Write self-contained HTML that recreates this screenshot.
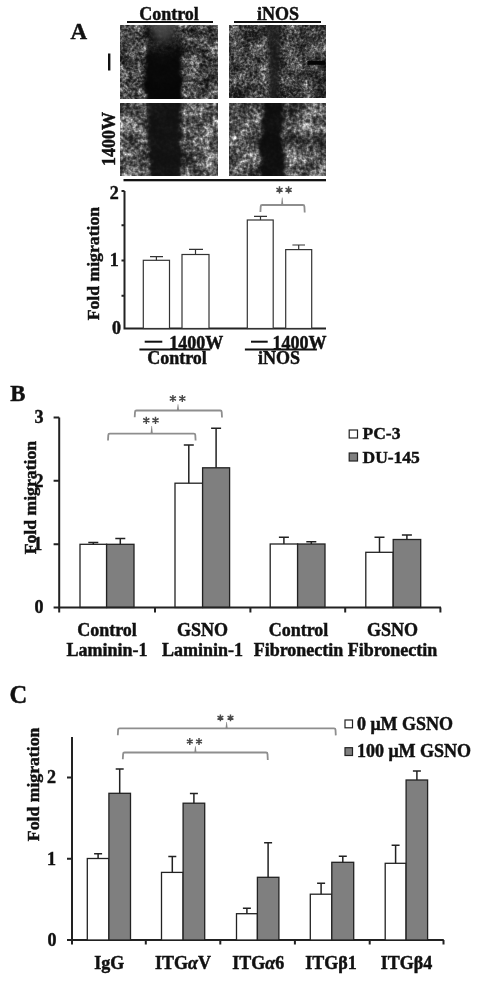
<!DOCTYPE html>
<html><head><meta charset="utf-8"><style>
html,body{margin:0;padding:0;background:#fff;}
body{width:481px;height:983px;overflow:hidden;position:relative;}
svg{position:absolute;left:0;top:0;display:block;filter:blur(0.45px);}
text{font-family:"Liberation Serif",serif;font-weight:bold;fill:#111;stroke:#111;stroke-width:0.45px;}
</style></head><body>
<svg width="481" height="983" viewBox="0 0 481 983">
<!-- ===== Panel A ===== -->
<text x="70.5" y="39" font-size="23">A</text>
<text x="169" y="20" font-size="18" text-anchor="middle">Control</text>
<rect x="127" y="21" width="86" height="2" fill="#111"/>
<text x="278" y="19.5" font-size="18" text-anchor="middle">iNOS</text>
<rect x="234" y="21" width="87" height="2" fill="#111"/>
<rect x="108" y="53.5" width="2.4" height="17" fill="#111"/>
<text transform="translate(114.5,139) rotate(-90)" font-size="18" text-anchor="middle">1400W</text>

<!-- micrographs -->
<defs>
<filter id="n1" x="0" y="0" width="1" height="1" color-interpolation-filters="sRGB">
<feTurbulence type="fractalNoise" baseFrequency="0.34" numOctaves="2" seed="7" result="h0"/>
<feColorMatrix in="h0" type="matrix" values="1 0 0 0 0  1 0 0 0 0  1 0 0 0 0  0 0 0 0 1" result="h"/>
<feTurbulence type="fractalNoise" baseFrequency="0.07" numOctaves="2" seed="3" result="l0"/>
<feColorMatrix in="l0" type="matrix" values="1 0 0 0 0  1 0 0 0 0  1 0 0 0 0  0 0 0 0 1" result="l"/>
<feComposite in="h" in2="l" operator="arithmetic" k1="0" k2="0.8" k3="0.7" k4="-0.25"/>
<feColorMatrix type="matrix" values="1 0 0 0 0  0 1 0 0 0  0 0 1 0 0  0 0 0 0 1"/>
<feGaussianBlur stdDeviation="0.55"/>
<feComponentTransfer><feFuncR type="gamma" amplitude="1.05" exponent="2.2" offset="0.05"/><feFuncG type="gamma" amplitude="1.05" exponent="2.2" offset="0.05"/><feFuncB type="gamma" amplitude="1.05" exponent="2.2" offset="0.05"/></feComponentTransfer>
</filter><filter id="n2" x="0" y="0" width="1" height="1" color-interpolation-filters="sRGB">
<feTurbulence type="fractalNoise" baseFrequency="0.38" numOctaves="2" seed="19" result="h0"/>
<feColorMatrix in="h0" type="matrix" values="1 0 0 0 0  1 0 0 0 0  1 0 0 0 0  0 0 0 0 1" result="h"/>
<feTurbulence type="fractalNoise" baseFrequency="0.07" numOctaves="2" seed="5" result="l0"/>
<feColorMatrix in="l0" type="matrix" values="1 0 0 0 0  1 0 0 0 0  1 0 0 0 0  0 0 0 0 1" result="l"/>
<feComposite in="h" in2="l" operator="arithmetic" k1="0" k2="0.8" k3="0.7" k4="-0.25"/>
<feColorMatrix type="matrix" values="1 0 0 0 0  0 1 0 0 0  0 0 1 0 0  0 0 0 0 1"/>
<feGaussianBlur stdDeviation="0.55"/>
<feComponentTransfer><feFuncR type="gamma" amplitude="0.95" exponent="2.2" offset="0.05"/><feFuncG type="gamma" amplitude="0.95" exponent="2.2" offset="0.05"/><feFuncB type="gamma" amplitude="0.95" exponent="2.2" offset="0.05"/></feComponentTransfer>
</filter><filter id="n3" x="0" y="0" width="1" height="1" color-interpolation-filters="sRGB">
<feTurbulence type="fractalNoise" baseFrequency="0.3" numOctaves="2" seed="23" result="h0"/>
<feColorMatrix in="h0" type="matrix" values="1 0 0 0 0  1 0 0 0 0  1 0 0 0 0  0 0 0 0 1" result="h"/>
<feTurbulence type="fractalNoise" baseFrequency="0.06" numOctaves="2" seed="8" result="l0"/>
<feColorMatrix in="l0" type="matrix" values="1 0 0 0 0  1 0 0 0 0  1 0 0 0 0  0 0 0 0 1" result="l"/>
<feComposite in="h" in2="l" operator="arithmetic" k1="0" k2="0.8" k3="0.7" k4="-0.25"/>
<feColorMatrix type="matrix" values="1 0 0 0 0  0 1 0 0 0  0 0 1 0 0  0 0 0 0 1"/>
<feGaussianBlur stdDeviation="0.55"/>
<feComponentTransfer><feFuncR type="gamma" amplitude="1.12" exponent="2.2" offset="0.1"/><feFuncG type="gamma" amplitude="1.12" exponent="2.2" offset="0.1"/><feFuncB type="gamma" amplitude="1.12" exponent="2.2" offset="0.1"/></feComponentTransfer>
</filter><filter id="n4" x="0" y="0" width="1" height="1" color-interpolation-filters="sRGB">
<feTurbulence type="fractalNoise" baseFrequency="0.3" numOctaves="2" seed="41" result="h0"/>
<feColorMatrix in="h0" type="matrix" values="1 0 0 0 0  1 0 0 0 0  1 0 0 0 0  0 0 0 0 1" result="h"/>
<feTurbulence type="fractalNoise" baseFrequency="0.06" numOctaves="2" seed="11" result="l0"/>
<feColorMatrix in="l0" type="matrix" values="1 0 0 0 0  1 0 0 0 0  1 0 0 0 0  0 0 0 0 1" result="l"/>
<feComposite in="h" in2="l" operator="arithmetic" k1="0" k2="0.8" k3="0.7" k4="-0.25"/>
<feColorMatrix type="matrix" values="1 0 0 0 0  0 1 0 0 0  0 0 1 0 0  0 0 0 0 1"/>
<feGaussianBlur stdDeviation="0.55"/>
<feComponentTransfer><feFuncR type="gamma" amplitude="1.1" exponent="2.2" offset="0.09"/><feFuncG type="gamma" amplitude="1.1" exponent="2.2" offset="0.09"/><feFuncB type="gamma" amplitude="1.1" exponent="2.2" offset="0.09"/></feComponentTransfer>
</filter>
<filter id="gd1" x="-0.4" y="-0.1" width="1.8" height="1.2" color-interpolation-filters="sRGB">
<feTurbulence type="fractalNoise" baseFrequency="0.12" numOctaves="2" seed="3" result="t"/>
<feDisplacementMap in="SourceGraphic" in2="t" scale="9" xChannelSelector="R" yChannelSelector="G"/>
<feGaussianBlur stdDeviation="1.4"/>
</filter>
<filter id="gd2" x="-0.4" y="-0.1" width="1.8" height="1.2" color-interpolation-filters="sRGB">
<feTurbulence type="fractalNoise" baseFrequency="0.12" numOctaves="2" seed="12" result="t"/>
<feDisplacementMap in="SourceGraphic" in2="t" scale="9" xChannelSelector="R" yChannelSelector="G"/>
<feGaussianBlur stdDeviation="1.4"/>
</filter>
<filter id="bl" x="-0.3" y="-0.1" width="1.6" height="1.2"><feGaussianBlur stdDeviation="2.2"/></filter>
<filter id="bl3" x="-0.3" y="-0.3" width="1.6" height="1.6"><feGaussianBlur stdDeviation="3"/></filter>
<filter id="bl2" x="-0.3" y="-0.1" width="1.6" height="1.2"><feGaussianBlur stdDeviation="1.6"/></filter>
<radialGradient id="rg1" cx="0.5" cy="0.4" r="0.5">
<stop offset="0" stop-color="#5a5a5a" stop-opacity="0.95"/>
<stop offset="0.55" stop-color="#484848" stop-opacity="0.75"/>
<stop offset="1" stop-color="#303030" stop-opacity="0"/>
</radialGradient>
<linearGradient id="gv1" x1="0" x2="0" y1="0" y2="1">
<stop offset="0.1" stop-color="#0a0a0a" stop-opacity="0.3"/>
<stop offset="0.3" stop-color="#0a0a0a" stop-opacity="0.7"/>
<stop offset="0.44" stop-color="#080808" stop-opacity="0.97"/>
<stop offset="1" stop-color="#050505" stop-opacity="1"/>
</linearGradient>
<clipPath id="c1"><rect x="120" y="25" width="98" height="74"/></clipPath>
<clipPath id="c2"><rect x="229" y="25" width="97" height="73"/></clipPath>
<clipPath id="c3"><rect x="120" y="103" width="98" height="73"/></clipPath>
<clipPath id="c4"><rect x="229" y="103" width="97" height="73"/></clipPath>
</defs>
<g clip-path="url(#c1)">
<rect x="120" y="25" width="98" height="74" filter="url(#n1)"/>
<path d="M147.5 15 L178.5 15 L181 50 L182.5 110 L144 110 L146 50 Z" fill="url(#gv1)" filter="url(#gd2)"/>
<ellipse cx="163" cy="26" rx="18" ry="30" fill="url(#rg1)"/>
</g>
<g clip-path="url(#c2)">
<rect x="229" y="25" width="97" height="73" filter="url(#n2)"/>
<path d="M265 15 L280 15 L280 45 L279 70 L278 110 L270 110 L269 70 L268 45 Z" fill="#161616" fill-opacity="0.78" filter="url(#bl2)"/>
<rect x="307.5" y="61" width="17.5" height="3.8" fill="#050505"/>
</g>
<g clip-path="url(#c3)">
<rect x="120" y="103" width="98" height="73" filter="url(#n3)"/>
<path d="M147.5 95 L181 95 L182 140 L183 185 L150.5 185 L148 140 Z" fill="#101010" fill-opacity="0.95" filter="url(#gd1)"/>
</g>
<g clip-path="url(#c4)">
<rect x="229" y="103" width="97" height="73" filter="url(#n4)"/>
<path d="M264 95 L284 95 L282 140 L288 185 L259.5 185 L259.5 140 Z" fill="#0c0c0c" fill-opacity="0.95" filter="url(#gd2)"/>
</g>
<rect x="123.5" y="179" width="202.5" height="2.3" fill="#111"/>

<!-- chart A -->
<g stroke="#222" stroke-width="2" fill="none">
<path d="M124.5 191 V328.5 H326"/>
<path d="M121.5 191 H124.5 M121.5 225.3 H124.5 M121.5 260.5 H124.5 M121.5 295.8 H124.5"/>
</g>
<g stroke="#333" stroke-width="1.2" fill="#fff">
<rect x="143.3" y="260.3" width="26.2" height="68.2"/>
<rect x="182" y="254.5" width="27" height="74"/>
<rect x="247.3" y="220" width="25.9" height="108.5"/>
<rect x="285.7" y="249.6" width="26" height="78.9"/>
</g>
<g stroke="#333" stroke-width="1.2" fill="none">
<path d="M156.4 260.3 V256.6 M150 256.6 H163"/>
<path d="M195.5 254.5 V249.4 M189 249.4 H203"/>
<path d="M260.5 220 V216.4 M254 216.4 H267"/>
<path d="M298.7 249.6 V245 M292.4 245 H305"/>
</g>
<text x="118.7" y="198.5" font-size="18" text-anchor="end">2</text>
<text x="118.7" y="266" font-size="18" text-anchor="end">1</text>
<text x="121" y="334" font-size="18" text-anchor="end">0</text>
<text transform="translate(99.2,263.6) rotate(-90)" font-size="17.7" text-anchor="middle">Fold migration</text>
<rect x="144.7" y="340.7" width="17.6" height="2" fill="#111"/>
<text x="196.3" y="348.6" font-size="18" font-weight="normal" text-anchor="middle">1400W</text>
<rect x="139.4" y="348.5" width="71" height="2" fill="#111"/>
<text x="177" y="364" font-size="18" text-anchor="middle">Control</text>
<rect x="251" y="340.7" width="16.7" height="2" fill="#111"/>
<text x="299.5" y="348.6" font-size="18" font-weight="normal" text-anchor="middle">1400W</text>
<rect x="244.9" y="348.5" width="72" height="2" fill="#111"/>
<text x="279" y="364" font-size="18" text-anchor="middle">iNOS</text>

<!-- ===== Panel B ===== -->
<text x="10.2" y="400.6" font-size="22.8">B</text>
<!-- ===== Panel B bars ===== -->
<g stroke="#222" stroke-width="1.3">
<rect x="80.0" y="544.3" width="26.6" height="63.2" fill="#fff"/>
<rect x="106.6" y="544.3" width="27.4" height="63.2" fill="#7f7f7f"/>
<rect x="175.0" y="483.2" width="27.6" height="124.3" fill="#fff"/>
<rect x="202.6" y="467.8" width="27.0" height="139.7" fill="#7f7f7f"/>
<rect x="270.2" y="544.0" width="27.4" height="63.5" fill="#fff"/>
<rect x="297.6" y="544.0" width="27.4" height="63.5" fill="#7f7f7f"/>
<rect x="365.8" y="552.3" width="27.4" height="55.2" fill="#fff"/>
<rect x="393.2" y="539.5" width="27.5" height="68.0" fill="#7f7f7f"/>
</g>
<g stroke="#222" stroke-width="1.5" fill="none">
<path d="M93.3 544.3 V542.5 M88.3 542.5 H98.3"/>
<path d="M120.3 544.3 V538.5 M115.3 538.5 H125.3"/>
<path d="M188.8 483.2 V445.0 M183.8 445.0 H193.8"/>
<path d="M216.1 467.8 V428.3 M211.1 428.3 H221.1"/>
<path d="M283.9 544.0 V537.2 M278.9 537.2 H288.9"/>
<path d="M311.3 544.0 V541.8 M306.3 541.8 H316.3"/>
<path d="M379.5 552.3 V537.2 M374.5 537.2 H384.5"/>
<path d="M406.9 539.5 V534.9 M401.9 534.9 H411.9"/>
</g>

<g stroke="#222" stroke-width="2" fill="none">
<path d="M59.2 417.5 V607.5 H441"/>
<path d="M53.6 417.5 H59.2 M53.6 480.8 H59.2 M53.6 544.2 H59.2 M53.6 607.5 H59.2"/>
<path d="M59.2 607.5 V612.5 M155 607.5 V612.5 M250.4 607.5 V612.5 M345.2 607.5 V612.5 M440.4 607.5 V612.5"/>
</g>
<text x="43.5" y="423" font-size="18" text-anchor="end">3</text>
<text x="43.5" y="486.5" font-size="18" text-anchor="end">2</text>
<text x="42.3" y="550" font-size="18" text-anchor="end">1</text>
<text x="43.5" y="613" font-size="18" text-anchor="end">0</text>
<text transform="translate(36.1,497.6) rotate(-90)" font-size="17.7" text-anchor="middle">Fold migration</text>
<rect x="349.2" y="430" width="8.3" height="8" fill="#fff" stroke="#222" stroke-width="1.2"/>
<rect x="349.2" y="453" width="8.3" height="8" fill="#7f7f7f" stroke="#222" stroke-width="1.2"/>
<text x="362.5" y="438.75" font-size="17.5">PC-3</text>
<text x="362.5" y="462.5" font-size="17.5">DU-145</text>
<g font-size="18" text-anchor="middle">
<text x="107" y="635.5">Control</text><text x="107" y="656">Laminin-1</text>
<text x="202.5" y="635.5">GSNO</text><text x="202.5" y="656">Laminin-1</text>
<text x="298.5" y="635.5">Control</text><text x="298.5" y="656">Fibronectin</text>
<text x="392.5" y="635.5">GSNO</text><text x="392.5" y="656">Fibronectin</text>
</g>

<!-- ===== Panel C ===== -->
<text x="9.5" y="703" font-size="24.5">C</text>
<g stroke="#222" stroke-width="2" fill="none">
<path d="M72 737 V940 H443.8"/>
<path d="M67 777.5 H72 M67 858.75 H72 M67 940 H72"/>
<path d="M72 940 V944.5 M145.8 940 V944.5 M220.3 940 V944.5 M294.9 940 V944.5 M369.7 940 V944.5 M443.5 940 V944.5"/>
</g>
<text x="56" y="783" font-size="18" text-anchor="end">2</text>
<text x="56" y="864.5" font-size="18" text-anchor="end">1</text>
<text x="56.5" y="945.5" font-size="18" text-anchor="end">0</text>
<text transform="translate(39,784.4) rotate(-90)" font-size="17.7" text-anchor="middle">Fold migration</text>
<rect x="345" y="720" width="7.5" height="7.8" fill="#fff" stroke="#222" stroke-width="1.2"/>
<rect x="345" y="747.7" width="7.5" height="7.8" fill="#7f7f7f" stroke="#222" stroke-width="1.2"/>
<text x="356.9" y="729.7" font-size="18">0 &#956;M GSNO</text>
<text x="356.9" y="756.8" font-size="18">100 &#956;M GSNO</text>
<g font-size="18" text-anchor="middle">
<text x="109.3" y="968.7">IgG</text>
<text x="182.9" y="968.7">ITG<tspan font-style="italic">&#945;</tspan>V</text>
<text x="258.3" y="968.7">ITG<tspan font-style="italic">&#945;</tspan>6</text>
<text x="331" y="968.7">ITG&#946;1</text>
<text x="406.5" y="968.7">ITG&#946;4</text>
</g>
<!-- ===== Panel C bars ===== -->
<g stroke="#222" stroke-width="1.3">
<rect x="87.3" y="858.5" width="21.6" height="81.5" fill="#fff"/>
<rect x="108.9" y="793.3" width="21.6" height="146.7" fill="#7f7f7f"/>
<rect x="161.5" y="872.4" width="21.6" height="67.6" fill="#fff"/>
<rect x="183.1" y="803.2" width="21.6" height="136.8" fill="#7f7f7f"/>
<rect x="236.5" y="913.7" width="20.9" height="26.3" fill="#fff"/>
<rect x="257.4" y="877.3" width="21.5" height="62.7" fill="#7f7f7f"/>
<rect x="310.3" y="894.2" width="21.5" height="45.8" fill="#fff"/>
<rect x="331.8" y="862.3" width="21.9" height="77.7" fill="#7f7f7f"/>
<rect x="385.2" y="863.3" width="20.9" height="76.7" fill="#fff"/>
<rect x="406.1" y="780.0" width="21.5" height="160.0" fill="#7f7f7f"/>
</g>
<g stroke="#222" stroke-width="1.5" fill="none">
<path d="M98.1 858.5 V853.8 M94.1 853.8 H102.1"/>
<path d="M119.7 793.3 V769.0 M115.7 769.0 H123.7"/>
<path d="M172.3 872.4 V856.5 M168.3 856.5 H176.3"/>
<path d="M193.9 803.2 V793.6 M189.9 793.6 H197.9"/>
<path d="M246.9 913.7 V908.2 M242.9 908.2 H250.9"/>
<path d="M268.1 877.3 V842.8 M264.1 842.8 H272.1"/>
<path d="M321.1 894.2 V883.3 M317.1 883.3 H325.1"/>
<path d="M342.8 862.3 V856.3 M338.8 856.3 H346.8"/>
<path d="M395.6 863.3 V845.3 M391.6 845.3 H399.6"/>
<path d="M416.9 780.0 V771.0 M412.9 771.0 H420.9"/>
</g>
<!-- brackets -->
<path d="M260.4 212.0 L260.7 206.5 Q260.7 205.0 262.2 205.0 H302.9 Q304.4 205.0 304.4 206.5 L304.7 212.5" stroke="#8e8e8e" stroke-width="1.8" fill="none"/><path d="M281.1 205.0 L281.9 197.5 H282.5 L283.3 205.0Z" fill="#8a8a8a"/>
<path d="M108.0 440.5 L108.3 435.1 Q108.3 433.6 109.8 433.6 H193.8 Q195.3 433.6 195.3 435.1 L195.6 440.5" stroke="#8e8e8e" stroke-width="1.8" fill="none"/><path d="M150.6 433.6 L151.4 426.1 H152.0 L152.8 433.6Z" fill="#8a8a8a"/>
<path d="M134.7 417.3 L135.0 412.0 Q135.0 410.5 136.5 410.5 H220.2 Q221.7 410.5 221.7 412.0 L222.0 417.5" stroke="#8e8e8e" stroke-width="1.8" fill="none"/><path d="M176.9 410.5 L177.7 404.2 H178.3 L179.1 410.5Z" fill="#8a8a8a"/>
<path d="M117.8 735.3 L118.1 729.9 Q118.1 728.4 119.6 728.4 H334.0 Q335.5 728.4 335.5 729.9 L335.8 735.4" stroke="#8e8e8e" stroke-width="1.8" fill="none"/><path d="M225.5 728.4 L226.3 721.9 H226.9 L227.7 728.4Z" fill="#8a8a8a"/>
<path d="M122.8 759.3 L123.1 754.0 Q123.1 752.5 124.6 752.5 H266.0 Q267.5 752.5 267.5 754.0 L267.8 760.0" stroke="#8e8e8e" stroke-width="1.8" fill="none"/><path d="M194.3 752.5 L195.1 746.2 H195.7 L196.5 752.5Z" fill="#8a8a8a"/>
<!-- asterisks -->
<path d="M279.50 186.30V193.50M276.38 188.10L282.62 191.70M276.38 191.70L282.62 188.10M288.60 186.30V193.50M285.48 188.10L291.72 191.70M285.48 191.70L291.72 188.10" stroke="#4a4a4a" stroke-width="1.45" fill="none"/>
<path d="M172.90 394.90V402.10M169.78 396.70L176.02 400.30M169.78 400.30L176.02 396.70M182.30 394.90V402.10M179.18 396.70L185.42 400.30M179.18 400.30L185.42 396.70" stroke="#4a4a4a" stroke-width="1.45" fill="none"/>
<path d="M146.30 416.70V423.90M143.18 418.50L149.42 422.10M143.18 422.10L149.42 418.50M155.50 416.70V423.90M152.38 418.50L158.62 422.10M152.38 422.10L158.62 418.50" stroke="#4a4a4a" stroke-width="1.45" fill="none"/>
<path d="M220.40 714.40V721.20M217.46 716.10L223.34 719.50M217.46 719.50L223.34 716.10M230.50 714.40V721.20M227.56 716.10L233.44 719.50M227.56 719.50L233.44 716.10" stroke="#4a4a4a" stroke-width="1.45" fill="none"/>
<path d="M189.80 738.10V744.90M186.86 739.80L192.74 743.20M186.86 743.20L192.74 739.80M199.00 738.10V744.90M196.06 739.80L201.94 743.20M196.06 743.20L201.94 739.80" stroke="#4a4a4a" stroke-width="1.45" fill="none"/>
</svg>
</body></html>
